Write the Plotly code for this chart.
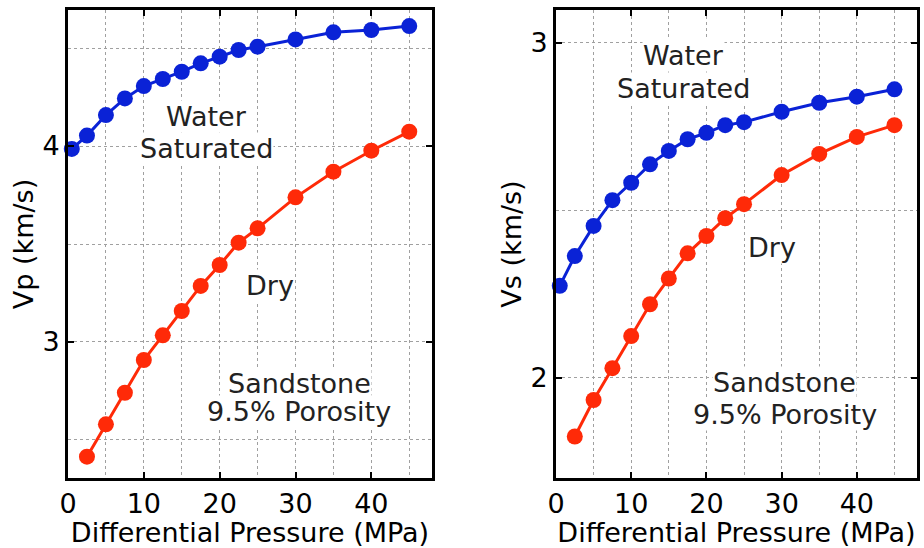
import plotly.graph_objects as go
from plotly.subplots import make_subplots

# ---- data ----
p_sat = [0.5, 2.5, 5, 7.5, 10, 12.5, 15, 17.5, 20, 22.5, 25, 30, 35, 40, 45]
vp_sat = [3.985, 4.053, 4.158, 4.243, 4.306, 4.342, 4.379, 4.422, 4.456, 4.49, 4.507, 4.544, 4.58, 4.592, 4.612]
vs_sat = [2.274, 2.363, 2.453, 2.530, 2.582, 2.637, 2.677, 2.712, 2.731, 2.754, 2.763, 2.794, 2.821, 2.839, 2.861]

p_dry = [2.5, 5, 7.5, 10, 12.5, 15, 17.5, 20, 22.5, 25, 30, 35, 40, 45]
vp_dry = [2.415, 2.58, 2.741, 2.908, 3.034, 3.158, 3.286, 3.393, 3.507, 3.58, 3.738, 3.869, 3.976, 4.073]
vs_dry = [1.824, 1.933, 2.028, 2.124, 2.219, 2.296, 2.371, 2.423, 2.476, 2.518, 2.605, 2.668, 2.719, 2.754]

x_ticks = [0, 10, 20, 30, 40]
vp_ticks = [3, 4]
vs_ticks = [2, 3]

BLUE = "#0a22d6"
RED = "#ff2a08"
FONT = "DejaVu Sans"
FS = 27

fig = make_subplots(rows=1, cols=2)

def add(x, y, color, col):
    fig.add_trace(go.Scatter(x=x, y=y, mode="lines+markers",
                             line=dict(color=color, width=3),
                             marker=dict(color=color, size=16),
                             showlegend=False, cliponaxis=False), row=1, col=col)

add(p_sat, vp_sat, BLUE, 1)
add(p_dry, vp_dry, RED, 1)
add(p_sat, vs_sat, BLUE, 2)
add(p_dry, vs_dry, RED, 2)

W, H = 924, 548
def px(a, b, total):
    return [a / total, b / total]

GRID = dict(gridcolor="#a0a0a0", gridwidth=1, griddash="dot")
common = dict(showline=True, linecolor="black", linewidth=3, mirror="ticks",
              ticks="inside", ticklen=6, tickwidth=2, tickcolor="black",
              zeroline=False, automargin=False, showgrid=True,
              tickfont=dict(family=FONT, size=FS, color="black"), **GRID)

xcommon = dict(common, range=[0, 48], tickvals=x_ticks,
               minor=dict(dtick=5, tick0=0, showgrid=True, ticklen=0, **GRID),
               title=dict(text="Differential Pressure (MPa)",
                          font=dict(family=FONT, size=FS, color="black"), standoff=0))

fig.update_xaxes(xcommon, row=1, col=1, domain=px(68, 432, W))
fig.update_xaxes(xcommon, row=1, col=2, domain=px(556, 917, W))

ycommon = dict(common,
               minor=dict(dtick=0.5, tick0=0, showgrid=True, ticklen=0, **GRID))
fig.update_yaxes(ycommon, row=1, col=1, range=[2.306, 4.694], tickvals=vp_ticks,
                 domain=px(H - 478, H - 10, H),
                 title=dict(text="Vp (km/s)", font=dict(family=FONT, size=FS, color="black"), standoff=1))
fig.update_yaxes(ycommon, row=1, col=2, range=[1.70, 3.098], tickvals=vs_ticks,
                 domain=px(H - 478, H - 10, H),
                 title=dict(text="Vs (km/s)", font=dict(family=FONT, size=FS, color="black"), standoff=1))

def note(text, x, y, xref, yref):
    fig.add_annotation(text=text, x=x, y=y, xref=xref, yref=yref, showarrow=False,
                       font=dict(family=FONT, size=FS, color="#222"),
                       bgcolor="white", borderpad=0)

# left panel labels
note("Water", 18.3, 4.15, "x", "y")
note("Saturated", 18.3, 3.985, "x", "y")
note("Dry", 26.6, 3.286, "x", "y")
note("Sandstone", 30.5, 2.786, "x", "y")
note("9.5% Porosity", 30.5, 2.643, "x", "y")
# right panel labels
note("Water", 16.9, 2.963, "x2", "y2")
note("Saturated", 16.9, 2.865, "x2", "y2")
note("Dry", 28.7, 2.39, "x2", "y2")
note("Sandstone", 30.4, 1.985, "x2", "y2")
note("9.5% Porosity", 30.5, 1.89, "x2", "y2")

fig.update_layout(width=W, height=H, margin=dict(l=0, r=0, t=0, b=0),
                  plot_bgcolor="white", paper_bgcolor="white",
                  font=dict(family=FONT, size=FS, color="black"))

fig.write_html("out.html")
